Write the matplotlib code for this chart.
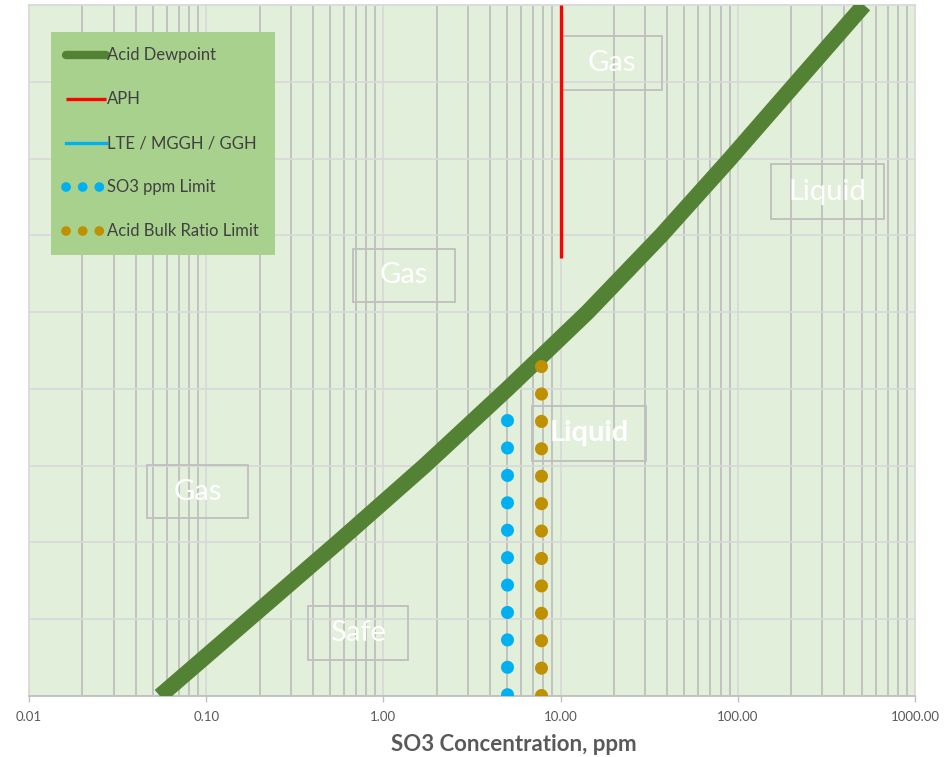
import matplotlib
matplotlib.use("Agg")
import matplotlib.pyplot as plt
from matplotlib.patches import Rectangle
from matplotlib.ticker import FixedLocator, LogLocator, FixedFormatter, NullFormatter, NullLocator

plt.rcParams['font.family'] = ['Lato', 'DejaVu Sans']

# Acid dewpoint curve: SO3 concentration (ppm) against dewpoint temperature (degC)
dewpoint_so3_ppm = [0.0548, 0.174, 0.552, 1.71, 5.01, 14.2, 37.0, 90.6, 216, 516]
dewpoint_temp_c = [100, 110, 120, 130, 140, 150, 160, 170, 180, 190]

# Air preheater
aph_so3_ppm = [10, 10]
aph_temp_c = [157, 190]

# LTE / MGGH / GGH (no points in this case)
lte_so3_ppm = []
lte_temp_c = []

# SO3 ppm limit
so3_limit_ppm = [5, 5]
so3_limit_temp_c = [100, 136]

# Acid bulk ratio limit
bulk_ratio_ppm = [7.8, 7.8]
bulk_ratio_temp_c = [100, 143]

series_names = ["Acid Dewpoint", "APH", "LTE / MGGH / GGH",
                "SO3 ppm Limit", "Acid Bulk Ratio Limit"]

x_tick_values = [0.01, 0.1, 1, 10, 100, 1000]
x_tick_labels = ["0.01", "0.10", "1.00", "10.00", "100.00", "1000.00"]
y_grid_values = [100, 110, 120, 130, 140, 150, 160, 170, 180, 190]

GREEN = "#548235"
RED = "#ff0000"
BLUE = "#00b0f0"
GOLD = "#bf9000"
TEXT = "#595959"

fig = plt.figure(figsize=(9.5, 7.57), dpi=100)
ax = fig.add_axes([0.03053, 0.08058, 0.93263, 0.91281])
ax.set_facecolor("#e2efda")

ax.set_xscale("log")
ax.set_xlim(0.01, 1000)
ax.set_ylim(100, 190)

# grid
ax.set_axisbelow(True)
ax.xaxis.set_major_locator(FixedLocator(x_tick_values))
ax.xaxis.set_major_formatter(FixedFormatter(x_tick_labels))
ax.xaxis.set_minor_locator(LogLocator(base=10, subs=range(2, 10)))
ax.xaxis.set_minor_formatter(NullFormatter())
ax.yaxis.set_major_locator(FixedLocator(y_grid_values))
ax.yaxis.set_minor_locator(NullLocator())
ax.grid(True, which="major", axis="x", color="#d9d9d9", lw=1.3)
ax.grid(True, which="minor", axis="x", color="#bfbfbf", lw=1.3)
ax.grid(True, which="major", axis="y", color="#d9d9d9", lw=1.3)

ax.tick_params(axis="y", left=False, labelleft=False)
ax.tick_params(axis="x", which="major", length=4, width=1, color="#bfbfbf",
               labelsize=9.5, labelcolor=TEXT, pad=7)
ax.tick_params(axis="x", which="minor", length=0)
for side in ["left", "top", "right"]:
    ax.spines[side].set_color("#d9d9d9")
    ax.spines[side].set_linewidth(1.3)
ax.spines["bottom"].set_color("#bfbfbf")
ax.spines["bottom"].set_linewidth(1.3)

# series
dots = (0, (0.01, 2.09))
ax.plot(dewpoint_so3_ppm, dewpoint_temp_c, color=GREEN, lw=11.5,
        solid_capstyle="butt", solid_joinstyle="round", label=series_names[0], zorder=3)
ax.plot(aph_so3_ppm, aph_temp_c, color=RED, lw=2.4, solid_capstyle="butt",
        label=series_names[1], zorder=3)
ax.plot(lte_so3_ppm, lte_temp_c, color=BLUE, lw=2.4, label=series_names[2], zorder=3)
# dotted limits are stroked from the top end downwards
ax.plot(so3_limit_ppm[::-1], so3_limit_temp_c[::-1], color=BLUE, lw=9.4,
        linestyle=dots, dash_capstyle="round", label=series_names[3], zorder=3)
ax.plot(bulk_ratio_ppm[::-1], bulk_ratio_temp_c[::-1], color=GOLD, lw=9.4,
        linestyle=dots, dash_capstyle="round", label=series_names[4], zorder=3)

ax.set_xlabel("SO3 Concentration, ppm", fontsize=16, fontweight="bold", color=TEXT)
ax.xaxis.label.set_va("center")
ax.xaxis.set_label_coords(0.547, -0.0695)

# region labels in boxes (axes-fraction corners)
regions = [
    ("Gas", 0.6005, 0.8770, 0.7144, 0.9551, "normal"),
    ("Gas", 0.3657, 0.5702, 0.4808, 0.6469, "normal"),
    ("Gas", 0.1332, 0.2576, 0.2472, 0.3343, "normal"),
    ("Safe", 0.3149, 0.0521, 0.4278, 0.1302, "normal"),
    ("Liquid", 0.5677, 0.3401, 0.6964, 0.4197, "bold"),
    ("Liquid", 0.8375, 0.6903, 0.9650, 0.7699, "normal"),
]
for text, x0, y0, x1, y1, weight in regions:
    ax.add_patch(Rectangle((x0, y0), x1 - x0, y1 - y0, transform=ax.transAxes,
                           fill=False, edgecolor="#bfbfbf", lw=1.3, zorder=2.5))
    ax.text((x0 + x1) / 2, (y0 + y1) / 2, text, transform=ax.transAxes,
            ha="center", va="center", fontsize=21, color="white",
            fontweight=weight, zorder=4)

leg = ax.legend(loc="upper left", bbox_to_anchor=(0.0248, 0.961),
                borderaxespad=0, fontsize=12.0, labelcolor="#404040",
                frameon=True, fancybox=False, framealpha=1,
                facecolor="#a9d18e", edgecolor="none",
                handlelength=2.35, handletextpad=0.1, labelspacing=1.68,
                borderpad=0.93)
handles = leg.get_lines()
handles[0].set_linewidth(6)
handles[0].set_solid_capstyle("round")
for h in handles[3:]:
    h.set_linewidth(7)
    h.set_linestyle((0, (0.01, 1.7)))
    h.set_dash_capstyle("round")
leg.set_zorder(5)

fig.savefig("out.png", dpi=100)
